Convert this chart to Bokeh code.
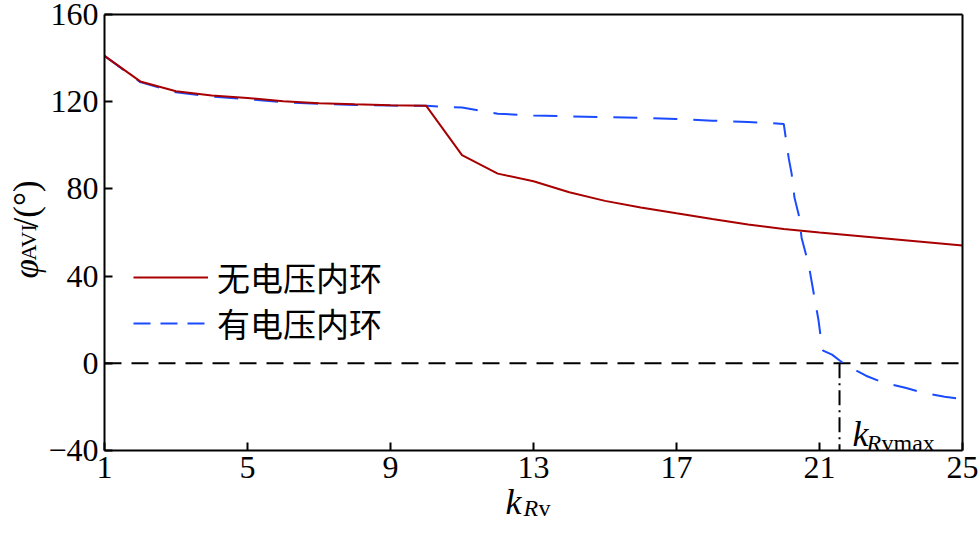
import math
from bokeh.plotting import figure
from bokeh.models import (Range1d, FixedTicker, Label, Legend, LegendItem,
                          LinearAxis)
from bokeh.embed import file_html
from bokeh.resources import INLINE

# ---- data ----
k_red = list(range(1, 26))
phi_red = [141.0, 129.3, 124.8, 122.8, 121.7, 120.2, 119.3, 118.8, 118.4, 118.1,
           95.5, 87.0, 83.5, 78.5, 74.5, 71.5, 68.8, 66.2, 63.7, 61.6,
           60.0, 58.5, 57.0, 55.5, 54.0]

k_blue = [1, 2, 3, 4, 5, 6, 7, 8, 9, 10, 11, 12, 13, 14, 15, 16, 17, 18, 19, 20,
          20.14, 20.22, 20.3, 20.42, 20.5, 20.7, 20.85, 20.97, 21.05, 21.1,
          21.35, 21.75, 22.3, 22.8, 23.4, 23.9, 24.5, 25.0]
phi_blue = [141.0, 129.0, 124.3, 122.3, 121.2, 119.8, 119.0, 118.5, 118.2, 118.1,
            117.3, 114.5, 113.7, 113.3, 112.9, 112.6, 112.1, 111.3, 110.7, 109.8,
            94.0, 87.0, 76.0, 68.0, 57.5, 45.0, 31.0, 20.0, 10.0, 5.8,
            4.0, -1.0, -5.7, -9.0, -11.2, -13.5, -15.3, -16.5]

x_ticks = [1, 5, 9, 13, 17, 21, 25]
y_ticks = [-40, 0, 40, 80, 120, 160]
y_tick_labels = {-40: "\u221240", 0: "0", 40: "40", 80: "80", 120: "120", 160: "160"}
k_rv_max = 21.56
legend_labels = ["无电压内环", "有电压内环"]

RED = "#A80000"
BLUE = "#1A4BFF"
SERIF = "Liberation Serif"

# ---- layout: the frame fills the canvas, the axes are pinned to the data box ----
W, H = 980, 539
box_l, box_r, box_t, box_b = 104, 962, 14, 450   # data box in canvas pixels
x0, x1 = x_ticks[0], x_ticks[-1]
y0, y1 = y_ticks[0], y_ticks[-1]
sx = (box_r - box_l) / (x1 - x0)
sy = (box_b - box_t) / (y1 - y0)
x_range = Range1d(x0 - box_l / sx, x1 + (W - box_r) / sx)
y_range = Range1d(y0 - (H - box_b) / sy, y1 + box_t / sy)

p = figure(width=W, height=H, output_backend="svg", toolbar_location=None,
           x_range=x_range, y_range=y_range,
           min_border=0, min_border_left=0, min_border_right=0,
           min_border_top=0, min_border_bottom=0)
p.xgrid.visible = False
p.ygrid.visible = False
p.outline_line_color = None
p.background_fill_color = "white"
p.border_fill_color = "white"

p.xaxis.ticker = FixedTicker(ticks=x_ticks)
p.yaxis.ticker = FixedTicker(ticks=y_ticks)
p.yaxis.major_label_overrides = y_tick_labels
p.xaxis.fixed_location = y0
p.yaxis.fixed_location = x0
p.xaxis.bounds = (x0, x1)
p.yaxis.bounds = (y0, y1)
for ax in (p.xaxis[0], p.yaxis[0]):
    ax.axis_line_width = 2
    ax.axis_line_color = "black"
    ax.major_tick_line_width = 2
    ax.major_tick_line_color = "black"
    ax.major_tick_in = 8
    ax.major_tick_out = 0
    ax.minor_tick_line_color = None
    ax.major_label_text_font = SERIF
    ax.major_label_text_font_size = "32px"
    ax.major_label_text_color = "black"
    ax.major_label_standoff = 6

# top and right edges of the box
top_ax = LinearAxis(fixed_location=y1, bounds=(x0, x1), ticker=FixedTicker(ticks=[]),
                    axis_line_width=2, axis_line_color="black",
                    major_tick_line_color=None, minor_tick_line_color=None,
                    major_label_text_font_size="0px")
right_ax = LinearAxis(fixed_location=x1, bounds=(y0, y1), ticker=FixedTicker(ticks=[]),
                      axis_line_width=2, axis_line_color="black",
                      major_tick_line_color=None, minor_tick_line_color=None,
                      major_label_text_font_size="0px")
p.add_layout(top_ax, "above")
p.add_layout(right_ax, "right")

# zero reference and k_Rvmax marker
p.line([x0, x1], [0, 0], line_color="black", line_width=2, line_dash="17 10")
p.segment(x0=[k_rv_max], y0=[0], x1=[k_rv_max], y1=[y0],
          line_color="black", line_width=2, line_dash="15 5 2 5")

r_blue = p.line(k_blue, phi_blue, line_color=BLUE, line_width=2, line_dash="24 16")
r_red = p.line(k_red, phi_red, line_color=RED, line_width=2)
# legend swatch for the dashed series (a single undefined point: draws nothing)
sw_blue = p.line([x0], [float("nan")], line_color=BLUE, line_width=2, line_dash="17 10")

def make_legend(label, renderer, center_y):
    return Legend(items=[LegendItem(label=label, renderers=[renderer])],
                  location=(133, H - (center_y + 23)), border_line_color=None,
                  background_fill_alpha=0, padding=0, margin=0, spacing=0,
                  glyph_width=75, glyph_height=36, label_height=36,
                  label_standoff=9, label_text_font="Noto Sans CJK SC",
                  label_text_font_size="33px", label_text_color="black")

p.add_layout(make_legend(legend_labels[0], r_red, 278))
p.add_layout(make_legend(legend_labels[1], sw_blue, 324))

# labels anchored at the bottom-left corner of the data box (x0, y0)
def lab(text, dx, dy, size, italic=False, angle=0.0):
    p.add_layout(Label(x=x0, y=y0, x_offset=dx, y_offset=dy, text=text,
                       text_font=SERIF, text_font_size=size,
                       text_font_style="italic" if italic else "normal",
                       text_align="left", text_baseline="alphabetic",
                       text_color="black", angle=angle))

# y axis label  phi_AVI/(deg), rotated
a = math.pi / 2
lab("\u03c6", -78, 172, "35px", italic=True, angle=a)
lab("AVI", -76, 190, "22px", angle=a)
lab("/(\u00b0)", -78, 223, "35px", angle=a)

# x axis label k_Rv
lab("k", 401, -51, "36px", italic=True)
lab("R", 419, -57, "24px", italic=True)
lab("v", 434, -57, "24px")

# k_Rvmax annotation
lab("k", 748, 17, "36px", italic=True)
lab("R", 762, 8, "24px", italic=True)
lab("vmax", 777, 8, "24px")

open("out.html", "w").write(file_html(p, INLINE))
